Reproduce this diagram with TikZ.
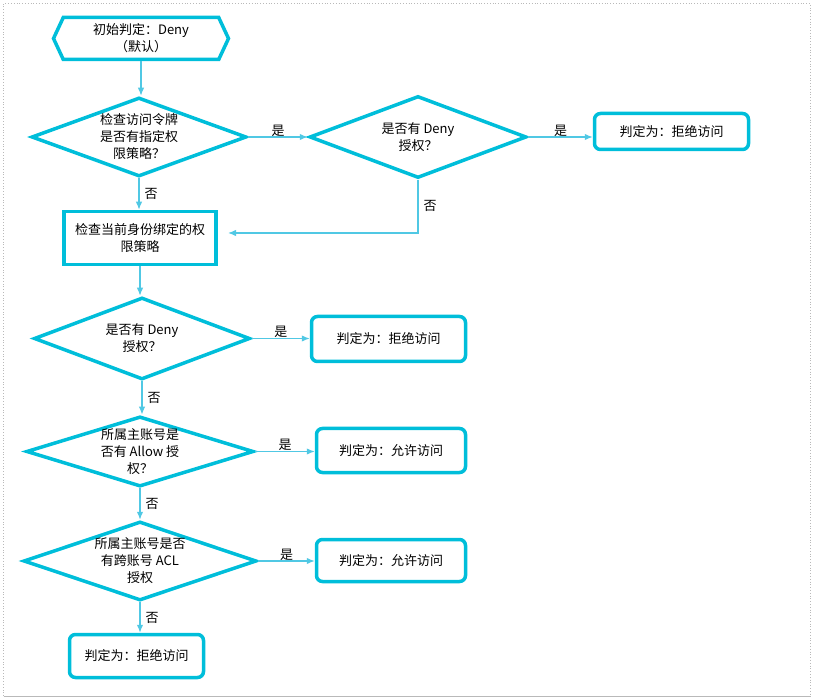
\documentclass[tikz,border=0pt]{standalone}
\usepackage{fontspec}
\setmainfont{Noto Sans CJK SC}
\usetikzlibrary{shapes.geometric,shapes.symbols,arrows.meta}
\definecolor{flowcyan}{RGB}{0,190,218}
\definecolor{linkcyan}{RGB}{80,200,228}

\begin{document}
\begin{tikzpicture}[x=1pt,y=-1pt]
\tikzstyle{every node}+=[inner sep=0pt, font=\fontsize{13}{17}\selectfont, align=center]
\tikzstyle{outline}=[draw=flowcyan, line width=3.5pt]
\tikzstyle{decide}=[outline, diamond]
\tikzstyle{verdict}=[outline, rectangle, rounded corners=6pt]
\tikzstyle{link}=[draw=linkcyan, line width=1.3pt, -{Latex[length=8pt,width=6.5pt]}]
\tikzstyle{answer}=[font=\fontsize{13}{15}\selectfont]
\useasboundingbox (0,0) rectangle (814,700);
\draw [gray!55, dotted, line width=0.8pt] (3.5,696) -- (3.5,3.5) -- (810.5,3.5) -- (810.5,696);
\draw [gray!55, line width=0.8pt] (3.5,696) -- (810.5,696);
\node [outline, signal, signal to=west and east, signal pointer angle=130, minimum width=175pt, minimum height=42pt] (start) at (141,38.5) {初始判定：Deny\\（默认）};
\node [decide, aspect=2.72, minimum width=215pt, minimum height=79pt] (checktoken) at (139,137) {检查访问令牌\\是否有指定权\\限策略？};
\node [outline, minimum width=152pt, minimum height=53pt] (ownpolicy) at (140,238) {检查当前身份绑定的权\\限策略};
\node [decide, aspect=2.65, minimum width=217pt, minimum height=82pt] (denyA) at (418,137) {是否有 Deny\\授权？};
\node [verdict, minimum width=154pt, minimum height=36pt] (rejectA) at (671.5,131.5) {判定为：拒绝访问};
\node [decide, aspect=2.63, minimum width=216pt, minimum height=82pt] (denyB) at (142,338.5) {是否有 Deny\\授权？};
\node [verdict, minimum width=154pt, minimum height=45pt] (rejectB) at (388.5,339) {判定为：拒绝访问};
\node [decide, aspect=3.24, minimum width=227pt, minimum height=70pt] (allow) at (140,451.5) {所属主账号是\\否有 Allow 授\\权？};
\node [verdict, minimum width=149pt, minimum height=44pt] (permitA) at (391,450.5) {判定为：允许访问};
\node [decide, aspect=2.95, minimum width=233pt, minimum height=79pt] (acl) at (140,561) {所属主账号是否\\有跨账号 ACL\\授权};
\node [verdict, minimum width=149pt, minimum height=42pt] (permitB) at (391,560.5) {判定为：允许访问};
\node [verdict, minimum width=134pt, minimum height=43pt] (rejectC) at (136.5,656) {判定为：拒绝访问};
\coordinate (backin) at (228,233);
\draw [link] (start.south) -- (start.south |- checktoken.north);
\draw [link] (checktoken.east) -- node [answer, above] {是} (checktoken.east -| denyA.west);
\draw [link] (denyA.east) -- node [answer, above] {是} (denyA.east -| rejectA.west);
\draw [link] (checktoken.south) -- node [answer, right=5pt] {否} (checktoken.south |- ownpolicy.north);
\draw [link] (denyA.south) |- node [answer, right=5pt, pos=0.25] {否} (backin);
\draw [link] (ownpolicy.south) -- (ownpolicy.south |- denyB.north);
\draw [link] (denyB.east) -- node [answer, above] {是} (denyB.east -| rejectB.west);
\draw [link] (denyB.south) -- node [answer, right=5pt] {否} (denyB.south |- allow.north);
\draw [link] (allow.east) -- node [answer, above] {是} (allow.east -| permitA.west);
\draw [link] (allow.south) -- node [answer, right=5pt] {否} (allow.south |- acl.north);
\draw [link] (acl.east) -- node [answer, above] {是} (acl.east -| permitB.west);
\draw [link] (acl.south) -- node [answer, right=5pt] {否} (acl.south |- rejectC.north);
\end{tikzpicture}
\end{document}
